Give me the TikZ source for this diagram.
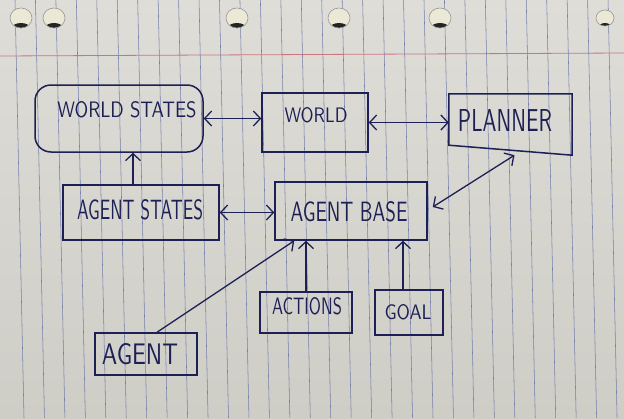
\documentclass[tikz,border=0pt]{standalone}
\usepackage{graphicx}
\usetikzlibrary{arrows.meta}
\definecolor{papertop}{RGB}{222,221,215}
\definecolor{paperbot}{RGB}{206,205,198}
\definecolor{rulecol}{RGB}{118,126,172}
\definecolor{margincol}{RGB}{200,120,124}
\definecolor{ink}{RGB}{28,32,84}
\definecolor{holecol}{RGB}{236,232,214}
\definecolor{holedark}{RGB}{38,36,34}
\definecolor{holerim}{RGB}{150,150,150}
\newcommand\hw[3]{\resizebox{#1pt}{#2pt}{\sffamily #3}}
\begin{document}
\begin{tikzpicture}[x=1pt,y=-1pt,
  box/.style={draw=ink, line width=1.5pt, rectangle, inner sep=0pt},
  lbl/.style={text=ink, inner sep=0pt},
  conn/.style={draw=ink, line width=1.3pt},
  >={Straight Barb[length=7pt,width=15pt]}]
\useasboundingbox (0,0) rectangle (624,418);
\clip (0,0) rectangle (624,418);
% paper
\shade[top color=papertop, bottom color=paperbot] (0,0) rectangle (624,418);
\foreach \i in {0,...,30}
  \draw[rulecol, line width=0.55pt] ({15+20.45*\i},0) -- ({24+20.45*\i},418);
\draw[margincol, line width=0.8pt] (0,56) -- (624,53);
\foreach \hx/\hr in {21/11,54/11,237/11,339/11,440/11,605/9}{
  \fill[holecol] (\hx,18) ellipse [x radius=\hr pt, y radius=\hr pt-1pt];
  \begin{scope}
    \clip (\hx,18) ellipse [x radius=\hr pt, y radius=\hr pt-1pt];
    \fill[holedark] (\hx,28) ellipse [x radius=\hr pt-2pt, y radius=5pt];
  \end{scope}
  \draw[holerim, line width=0.6pt] (\hx,18) ellipse [x radius=\hr pt, y radius=\hr pt-1pt];
}
% boxes
\node[box, rounded corners=16pt, minimum width=168pt, minimum height=67pt] (ws) at (119,118.5) {};
\node[box, minimum width=156pt, minimum height=55pt] (as) at (141,212.5) {};
\node[box, minimum width=106pt, minimum height=59pt] (wd) at (315,122.5) {};
\node[inner sep=0pt, minimum width=123pt, minimum height=61pt] (pl) at (510.5,124.5) {};
\draw[ink, line width=1.5pt] (pl.north west) -- (pl.north east) -- (pl.south east) -- ([yshift=10pt]pl.south west) -- cycle;
\node[box, minimum width=152pt, minimum height=58pt] (ab) at (351,211) {};
\node[box, minimum width=102pt, minimum height=42pt] (ag) at (146,354) {};
\node[box, minimum width=92pt, minimum height=41pt] (ac) at (306,312.5) {};
\node[box, minimum width=68pt, minimum height=45pt] (go) at (409,312.5) {};
% labels
\node[lbl] (wst) at (127,110) {\hw{139}{16}{WORLD STATES}};
\node[lbl] (ast) at (140,210) {\hw{126}{20}{AGENT STATES}};
\node[lbl] (wdt) at (316,115) {\hw{63}{15}{WORLD}};
\node[lbl] (plt) at (505,120) {\hw{94}{22}{PLANNER}};
\node[lbl] (abt) at (349,212) {\hw{117}{20}{AGENT BASE}};
\node[lbl] (agt) at (140,354) {\hw{76}{21}{AGENT}};
\node[lbl] (act) at (307,306) {\hw{70}{17}{ACTIONS}};
\node[lbl] (got) at (408,312) {\hw{47}{15}{GOAL}};
% connectors
\draw[conn,<->] (ws.east) -- (ws.east -| wd.west);
\draw[conn,<->] (wd.east) -- (wd.east -| pl.west);
\draw[conn,<->] (as.east) -- (as.east -| ab.west);
\draw[conn,->] ([xshift=-8pt]as.north) -- ([xshift=-8pt]as.north |- ws.south);
\draw[conn,<->] ([xshift=5pt,yshift=4pt]ab.east) -- ([xshift=4pt]pl.south);
\draw[conn,->] ([xshift=11pt]ag.north) -- ([xshift=20pt]ab.south west);
\draw[conn,->] (ac.north) -- (ac.north |- ab.south);
\draw[conn,->] ([xshift=-6pt]go.north) -- ([xshift=-6pt]go.north |- ab.south);
\end{tikzpicture}
\end{document}
